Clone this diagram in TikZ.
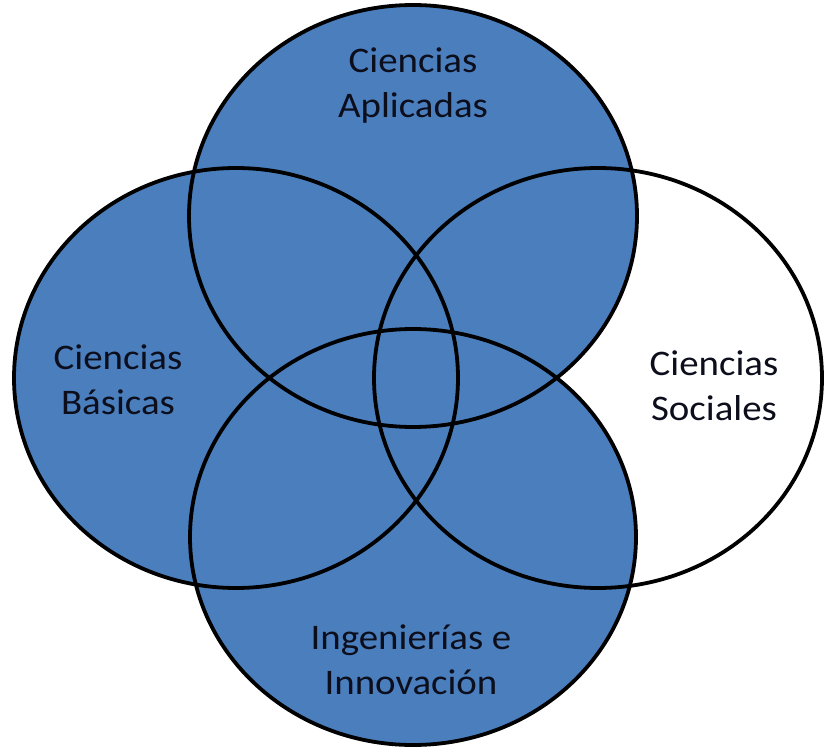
\documentclass[tikz,border=0pt]{standalone}
\usepackage{fontspec}
\setmainfont{Carlito}
\definecolor{vennblue}{RGB}{74,126,189}
\definecolor{txt}{RGB}{12,14,28}
\begin{document}
\begin{tikzpicture}[x=1pt,y=-1pt,
  lbl/.style={align=center, text=txt, font=\fontsize{36}{45}\selectfont, xscale=1.08, transform shape, inner sep=0pt},
  outline/.style={draw=black, line width=3.8pt}]
\useasboundingbox[fill=white] (0,0) rectangle (827,754);
% fills
\fill[white] (598,378) ellipse [x radius=224pt, y radius=210pt];
\fill[vennblue] (413,216) ellipse [x radius=224pt, y radius=211pt];
\fill[vennblue] (236,378) ellipse [x radius=222pt, y radius=210pt];
\fill[vennblue] (413,537) ellipse [x radius=223pt, y radius=208pt];
% outlines
\draw[outline] (598,378) ellipse [x radius=224pt, y radius=210pt];
\draw[outline] (413,216) ellipse [x radius=224pt, y radius=211pt];
\draw[outline] (236,378) ellipse [x radius=222pt, y radius=210pt];
\draw[outline] (413,537) ellipse [x radius=223pt, y radius=208pt];
% labels
\node[lbl] (apl) at (413,86) {Ciencias\\Aplicadas};
\node[lbl] (bas) at (118,380) {Ciencias\\Básicas};
\node[lbl] (soc) at (714,386) {Ciencias\\Sociales};
\node[lbl] (ing) at (411,660) {Ingenierías e\\Innovación};
\end{tikzpicture}
\end{document}
